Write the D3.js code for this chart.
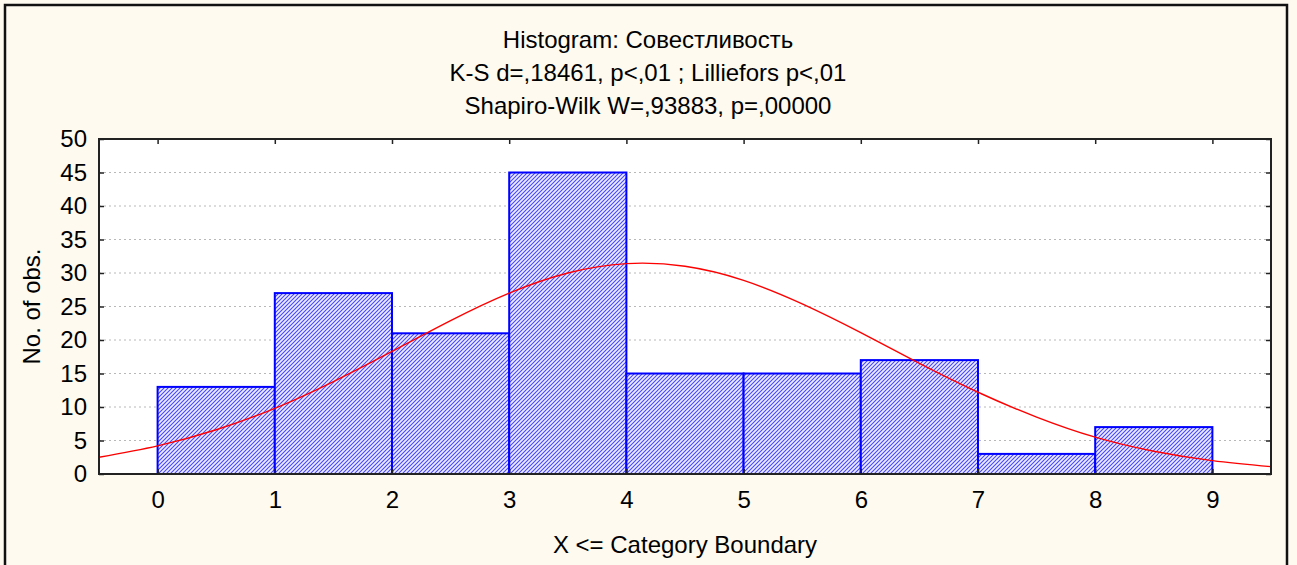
<!DOCTYPE html>
<html><head><meta charset="utf-8">
<script src="https://cdn.jsdelivr.net/npm/d3@7"></script>
<style>body{margin:0;background:#fff}svg{display:block}</style>
</head><body>
<script>
const binStarts = [0,1,2,3,4,5,6,7,8];
const counts = [13,27,21,45,15,15,17,3,7];
const curveX = [-0.5,0,0.5,1,1.5,2,2.5,3,3.5,4,4.5,5,5.5,6,6.5,7,7.5,8,8.5,9,9.5];
const curveY = [2.5,4.2,6.6,9.8,13.8,18.3,22.9,27.0,30.0,31.4,31.0,28.9,25.4,21.1,16.5,12.2,8.5,5.5,3.4,2.0,1.1];
const xTicks = [0,1,2,3,4,5,6,7,8,9];
const yTicks = [0,5,10,15,20,25,30,35,40,45,50];
const titles = ["Histogram: Совестливость","K-S d=,18461, p<,01 ; Lilliefors p<,01","Shapiro-Wilk W=,93883, p=,00000"];

const W=1297,H=565;
const m={l:99,r:1271,t:139,b:474};
const FONT="'Liberation Sans', Arial, sans-serif";
const svg=d3.select("body").append("svg").attr("width",W).attr("height",H)
  .style("font-family",FONT);
svg.append("rect").attr("width",W).attr("height",H).attr("fill","#fefaf0");
svg.append("path").attr("d",`M5,${H} V5 H1287 V${H}`).attr("fill","none").attr("stroke","#111").attr("stroke-width",2.5);

const defs=svg.append("defs");
const pat=defs.append("pattern").attr("id","hatch").attr("patternUnits","userSpaceOnUse")
  .attr("width",4).attr("height",4);
pat.append("rect").attr("width",4).attr("height",4).attr("fill","#eeeeff");
pat.append("path").attr("d","M-1,1 l2,-2 M0,4 l4,-4 M3,5 l2,-2").attr("stroke","#4646ff").attr("stroke-width",1.1);

const x=d3.scaleLinear().domain([-0.5,9.5]).range([m.l,m.r]);
const y=d3.scaleLinear().domain([0,50]).range([m.b,m.t]);

svg.append("rect").attr("x",m.l).attr("y",m.t).attr("width",m.r-m.l).attr("height",m.b-m.t).attr("fill","#fff");

// grid
svg.append("g").selectAll("line").data(yTicks.filter(d=>d>0&&d<50)).join("line")
  .attr("x1",m.l).attr("x2",m.r).attr("y1",d=>y(d)).attr("y2",d=>y(d))
  .attr("stroke","#b8b8b8").attr("stroke-dasharray","2,3");

// bars
const bars=svg.append("g");
bars.selectAll("rect.bg").data(counts).join("rect").attr("class","bg")
  .attr("x",(d,i)=>x(binStarts[i])).attr("width",(d,i)=>x(binStarts[i]+1)-x(binStarts[i]))
  .attr("y",d=>y(d)).attr("height",d=>y(0)-y(d)).attr("fill","#fff");
bars.selectAll("rect.fg").data(counts).join("rect").attr("class","fg")
  .attr("x",(d,i)=>x(binStarts[i])).attr("width",(d,i)=>x(binStarts[i]+1)-x(binStarts[i]))
  .attr("y",d=>y(d)).attr("height",d=>y(0)-y(d)).attr("fill","url(#hatch)")
  .attr("stroke","#0000ff").attr("stroke-width",2);

// curve
const pts=curveX.map((v,i)=>[v,curveY[i]]);
svg.append("path").datum(pts).attr("fill","none").attr("stroke","#ff0000").attr("stroke-width",1.4)
  .attr("d",d3.line().x(d=>x(d[0])).y(d=>y(d[1])).curve(d3.curveNatural));

// frame
svg.append("rect").attr("x",m.l).attr("y",m.t).attr("width",m.r-m.l).attr("height",m.b-m.t)
  .attr("fill","none").attr("stroke","#222").attr("stroke-width",2);

// axes
const fs="24px";
svg.append("g").attr("transform",`translate(${m.l},0)`)
  .call(d3.axisLeft(y).tickValues(yTicks).tickSize(-5).tickPadding(12));
svg.append("g").attr("transform",`translate(0,${m.b})`)
  .call(d3.axisBottom(x).tickValues(xTicks).tickSize(-5).tickPadding(17));
svg.append("g").attr("transform",`translate(0,${m.t})`)
  .call(d3.axisTop(x).tickValues(xTicks).tickSize(-5).tickFormat(""));
svg.append("g").attr("transform",`translate(${m.r},0)`)
  .call(d3.axisRight(y).tickValues(yTicks).tickSize(-5).tickFormat(""));
svg.selectAll(".domain").remove();
svg.selectAll(".tick line").attr("stroke","#222").attr("stroke-width",1.5);
svg.selectAll(".tick text").attr("font-size",fs).attr("fill","#000").attr("font-family",FONT);

// titles
svg.append("g").selectAll("text").data(titles).join("text")
  .attr("x",648).attr("y",(d,i)=>48+i*33).attr("text-anchor","middle")
  .attr("font-size",fs).attr("fill","#000").text(d=>d);
svg.append("text").attr("x",(m.l+m.r)/2).attr("y",553).attr("text-anchor","middle")
  .attr("font-size",fs).text("X <= Category Boundary");
svg.append("text").attr("transform",`translate(40,${(m.t+m.b)/2}) rotate(-90)`).attr("text-anchor","middle")
  .attr("font-size",fs).text("No. of obs.");
</script>
</body></html>
